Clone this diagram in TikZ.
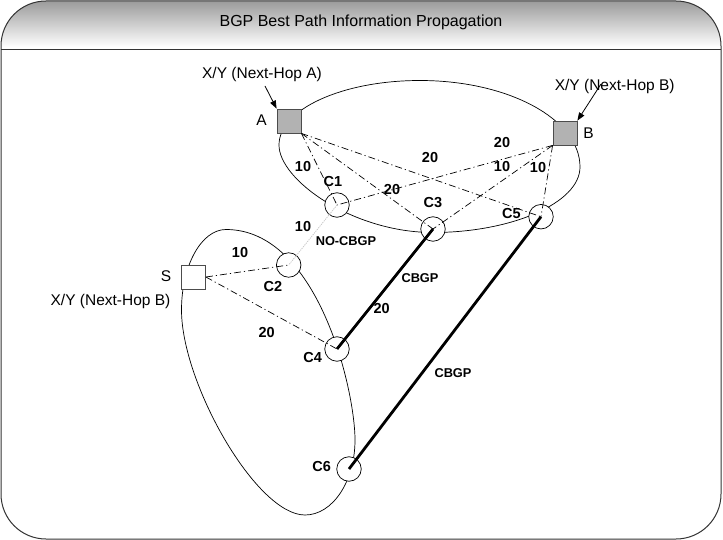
\documentclass[tikz,border=0pt]{standalone}
\usepackage{fontspec}
\setmainfont{Liberation Sans}
\usetikzlibrary{arrows.meta}
\begin{document}
\begin{tikzpicture}[x=1pt,y=1pt,
  cnode/.style={circle,draw=black,fill=white,minimum size=24.5pt,inner sep=0pt,line width=0.7pt},
  rtr/.style={rectangle,draw=black!70,fill=gray!60,minimum size=24pt,inner sep=0pt,line width=0.8pt},
  srtr/.style={rectangle,draw=black!70,fill=white,minimum size=24pt,inner sep=0pt,line width=0.8pt},
  ddash/.style={line width=0.7pt,dash pattern=on 7pt off 3pt on 1.2pt off 3pt},
  cbgp/.style={line width=2.8pt},
  nocbgp/.style={line width=0.8pt,gray!45,dash pattern=on 1.2pt off 1pt},
  ring/.style={line width=0.7pt},
  lab/.style={font=\fontsize{15.5}{18}\selectfont,inner sep=0pt},
  cl/.style={font=\fontsize{14.5}{17}\selectfont\bfseries,inner sep=0pt},
  num/.style={font=\fontsize{14.5}{17}\selectfont\bfseries,inner sep=0pt},
  sm/.style={font=\fontsize{12.8}{15}\selectfont\bfseries,inner sep=0pt},
  callout/.style={line width=0.8pt,-{Triangle[length=8pt,width=6pt]}}]
\useasboundingbox (0,0) rectangle (723,-540);
% frame and header
\begin{scope}
\clip[rounded corners=45pt] (1,-1) rectangle (721,-539);
\shade[top color=gray!80,bottom color=white] (0,0) rectangle (723,-47);
\fill[white] (0,-47) rectangle (723,-50);
\end{scope}
\draw[line width=1pt,black!80] (1,-50) -- (721,-50);
\draw[line width=1pt,black!80,rounded corners=45pt] (1,-1) rectangle (721,-539);
\node[font=\fontsize{16}{19}\selectfont,inner sep=0pt] (title) at (361,-22) {BGP Best Path Information Propagation};
% rings (drawn first, under the nodes)
\coordinate (tL) at (279,-145);
\coordinate (tT) at (420,-80.5);
\coordinate (tR) at (580,-167);
\coordinate (tB) at (433,-232.5);
\draw[ring] (tL) to[out=90,in=180,out distance=35.6pt,in distance=77.9pt] (tT)
  to[out=0,in=90,out distance=88.4pt,in distance=47.8pt] (tR)
  to[out=-90,in=0,out distance=36.2pt,in distance=78pt] (tB)
  to[out=180,in=-90,out distance=80pt,in distance=35pt] (tL);
\coordinate (bL) at (181.5,-310);
\coordinate (bT) at (226,-229.5);
\coordinate (bR) at (355,-440);
\coordinate (bB) at (305,-515);
\draw[ring] (bL) to[out=90,in=180,out distance=44.5pt,in distance=24.6pt] (bT)
  to[out=0,in=90,out distance=92pt,in distance=50pt] (bR)
  to[out=-90,in=0,out distance=41.4pt,in distance=27.6pt] (bB)
  to[out=180,in=-90,out distance=48.7pt,in distance=73pt] (bL);
% routers
\node[rtr] (A) at (289,-121) {};
\node[rtr] (B) at (565,-133) {};
\node[srtr] (S) at (193.5,-277) {};
\node[cnode] (C1) at (337,-205) {};
\node[cnode] (C2) at (288.7,-265) {};
\node[cnode] (C3) at (433,-229) {};
\node[cnode] (C4) at (337,-349) {};
\node[cnode] (C5) at (541,-216.7) {};
\node[cnode] (C6) at (349,-469) {};
% router names
\node[lab] (nA) at (261.5,-120) {A};
\node[lab] (nB) at (588.5,-133) {B};
\node[lab] (nS) at (166,-276) {S};
\node[cl] (n1) at (333,-182) {C1};
\node[cl] (n2) at (273,-287) {C2};
\node[cl] (n3) at (433,-203) {C3};
\node[cl] (n4) at (312.7,-358) {C4};
\node[cl] (n5) at (511.5,-214) {C5};
\node[cl] (n6) at (321.7,-467) {C6};
% route info labels
\node[lab] (xA) at (262,-74) {X/Y (Next-Hop A)};
\node[lab] (xB) at (614.7,-86) {X/Y (Next-Hop B)};
\node[lab] (xS) at (110.5,-301) {X/Y (Next-Hop B)};
\coordinate (pA) at (265,-86);
\coordinate (pB) at (601,-84);
\draw[callout] (pA) -- (A.north west);
\draw[callout] (pB) -- (B.north east);
% IGP links
\draw[ddash] (A.south east) -- (C1.center);
\draw[ddash] (A.south east) -- (C3.center);
\draw[ddash] (A.south east) -- (C5.center);
\draw[ddash] (B.south west) -- (C1.center);
\draw[ddash] (B.south west) -- (C3.center);
\draw[ddash] (B.south west) -- (C5.center);
\draw[ddash] (S.east) -- (C2.center);
\draw[ddash] (S.east) -- (C4.center);
\draw[nocbgp] (C1.center) -- (C2.center);
\draw[cbgp] (C3.center) -- (C4.center);
\draw[cbgp] (C5.center) -- (C6.center);
% metrics
\node[num] (m1) at (303,-167) {10};
\node[num] (m2) at (392,-190) {20};
\node[num] (m3) at (430,-158) {20};
\node[num] (m4) at (502,-143) {20};
\node[num] (m5) at (502,-167) {10};
\node[num] (m6) at (538,-168) {10};
\node[num] (m7) at (303,-227) {10};
\node[num] (m8) at (240,-253) {10};
\node[num] (m9) at (266.7,-333) {20};
\node[num] (m10) at (381.7,-309) {20};
\node[sm] (t1) at (346,-241) {NO-CBGP};
\node[sm] (t2) at (420,-278) {CBGP};
\node[sm] (t3) at (453,-373) {CBGP};
\end{tikzpicture}
\end{document}
